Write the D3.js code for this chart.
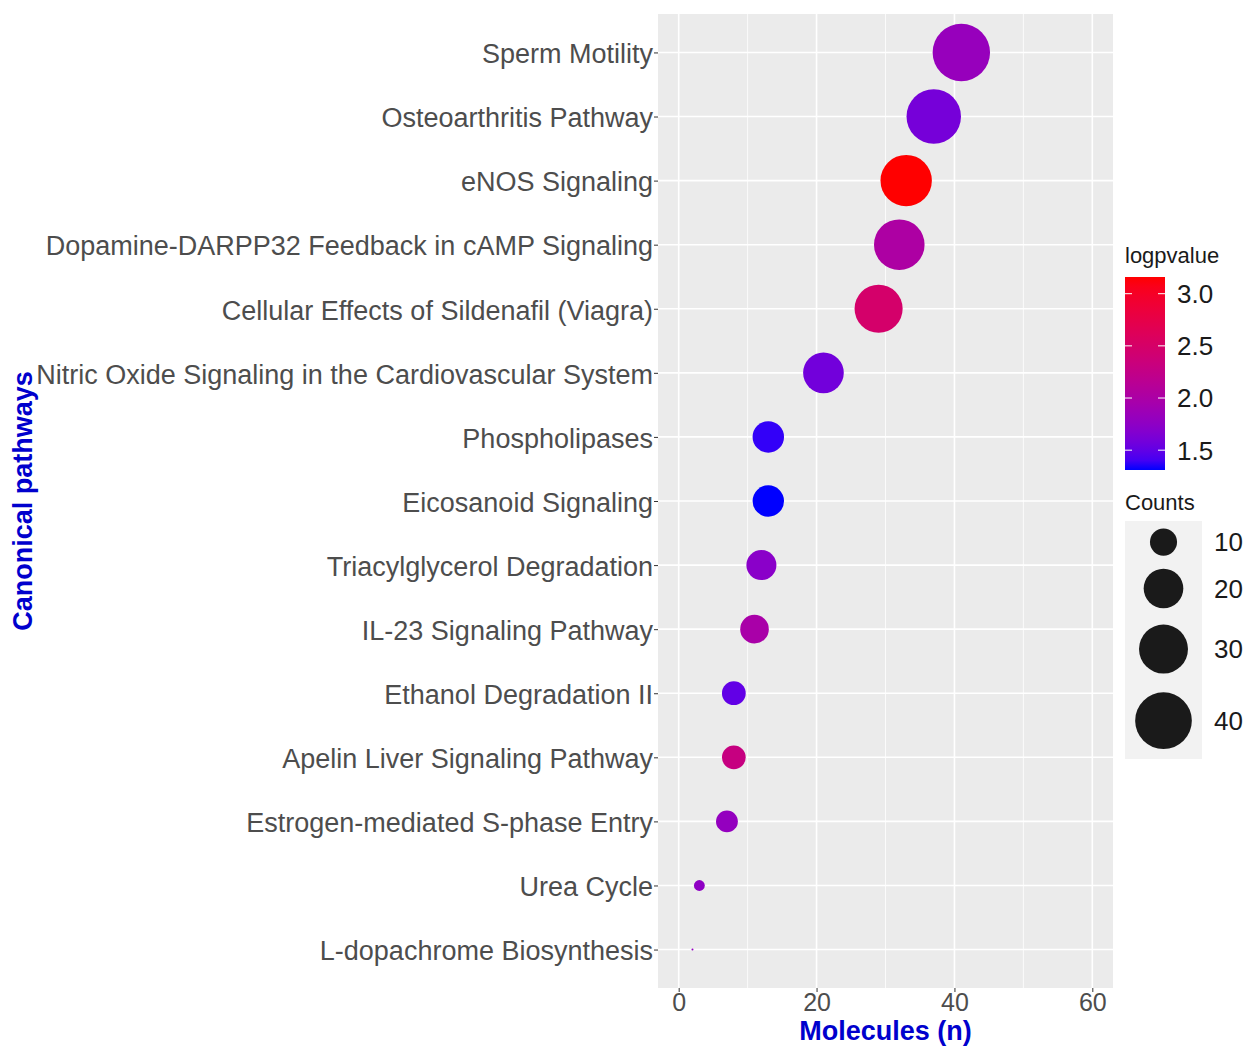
<!DOCTYPE html>
<html>
<head>
<meta charset="utf-8">
<script src="https://cdn.jsdelivr.net/npm/d3@7"></script>
<style>
  body { margin: 0; background: #fff; }
  text { font-family: "Liberation Sans", Arial, sans-serif; }
</style>
</head>
<body>
<div id="chart-area"></div>
<script>
// pathways, top to bottom
var pathways = [
  "Sperm Motility",
  "Osteoarthritis Pathway",
  "eNOS Signaling",
  "Dopamine-DARPP32 Feedback in cAMP Signaling",
  "Cellular Effects of Sildenafil (Viagra)",
  "Nitric Oxide Signaling in the Cardiovascular System",
  "Phospholipases",
  "Eicosanoid Signaling",
  "Triacylglycerol Degradation",
  "IL-23 Signaling Pathway",
  "Ethanol Degradation II",
  "Apelin Liver Signaling Pathway",
  "Estrogen-mediated S-phase Entry",
  "Urea Cycle",
  "L-dopachrome Biosynthesis"
];
var molecules = [41, 37, 33, 32, 29, 21, 13, 13, 12, 11, 8, 8, 7, 3, 2];
var counts    = [41, 37, 33, 32, 29, 21, 13, 13, 12, 11, 8, 8, 7, 3, 2];
var logpvalue = [1.82, 1.6, 3.16, 2.02, 2.48, 1.58, 1.36, 1.31, 1.72, 1.98, 1.5, 2.3, 1.8, 1.76, 1.8];

var xTicks = [0, 20, 40, 60];
var xMinor = [10, 30, 50];
var colorTicks = [1.5, 2.0, 2.5, 3.0];
var sizeBreaks = [10, 20, 30, 40];

var data = pathways.map((p, i) => ({
  name: p, n: molecules[i], count: counts[i], logp: logpvalue[i]
}));

var W = 1248, H = 1046;
var panel = { left: 658, right: 1113, top: 14, bottom: 988 };

var svg = d3.select("#chart-area").append("svg")
  .attr("width", W)
  .attr("height", H);

// scales
var x = d3.scaleLinear()
  .domain([-3, 63])
  .range([panel.left, panel.right]);

var y = d3.scalePoint()
  .domain(pathways)
  .range([panel.top, panel.bottom])
  .padding(0.6);

var color = d3.scaleLinear()
  .domain(d3.extent(logpvalue))
  .range(["blue", "red"])
  .interpolate(d3.interpolateLab);

// ggplot-like area scale: rescale, sqrt, then map to radius
var sizeNorm = d3.scaleLinear().domain(d3.extent(counts)).range([0, 1]);
var sizeR = d3.scaleLinear().domain([0, 1]).range([1, 28.7]);
var radius = v => sizeR(Math.sqrt(Math.max(0, sizeNorm(v))));

// panel
svg.append("rect")
  .attr("x", panel.left).attr("y", panel.top)
  .attr("width", panel.right - panel.left)
  .attr("height", panel.bottom - panel.top)
  .attr("fill", "#ebebeb");

// grid
svg.selectAll(".minor-x")
  .data(xMinor).enter().append("line")
  .attr("x1", d => x(d)).attr("x2", d => x(d))
  .attr("y1", panel.top).attr("y2", panel.bottom)
  .attr("stroke", "#fff").attr("stroke-width", 0.8);

svg.selectAll(".major-x")
  .data(xTicks).enter().append("line")
  .attr("x1", d => x(d)).attr("x2", d => x(d))
  .attr("y1", panel.top).attr("y2", panel.bottom)
  .attr("stroke", "#fff").attr("stroke-width", 1.6);

svg.selectAll(".major-y")
  .data(pathways).enter().append("line")
  .attr("x1", panel.left).attr("x2", panel.right)
  .attr("y1", d => y(d)).attr("y2", d => y(d))
  .attr("stroke", "#fff").attr("stroke-width", 1.6);

// axes
var xAxis = svg.append("g")
  .attr("transform", `translate(0,${panel.bottom})`)
  .call(d3.axisBottom(x).tickValues(xTicks).tickSize(4).tickPadding(1));
xAxis.select(".domain").remove();
xAxis.selectAll("line").attr("stroke", "#333");
xAxis.selectAll("text")
  .attr("fill", "#4d4d4d")
  .style("font-size", "25px")
  .style("font-family", "'Liberation Sans', Arial, sans-serif");

var yAxis = svg.append("g")
  .attr("transform", `translate(${panel.left},0)`)
  .call(d3.axisLeft(y).tickSize(4).tickPadding(1));
yAxis.select(".domain").remove();
yAxis.selectAll("line").attr("stroke", "#333");
yAxis.selectAll("text")
  .attr("fill", "#4d4d4d")
  .attr("dy", "0.38em")
  .style("font-size", "27px")
  .style("font-family", "'Liberation Sans', Arial, sans-serif");

// points
svg.selectAll("circle.pt")
  .data(data).enter().append("circle")
  .attr("class", "pt")
  .attr("cx", d => x(d.n))
  .attr("cy", d => y(d.name))
  .attr("r", d => radius(d.count))
  .attr("fill", d => color(d.logp));

// axis titles
svg.append("text")
  .attr("x", (panel.left + panel.right) / 2)
  .attr("y", 1040)
  .attr("text-anchor", "middle")
  .attr("fill", "#0000cd")
  .style("font-size", "27px")
  .style("font-weight", "bold")
  .text("Molecules (n)");

svg.append("text")
  .attr("transform", `translate(32,${(panel.top + panel.bottom) / 2}) rotate(-90)`)
  .attr("text-anchor", "middle")
  .attr("fill", "#0000cd")
  .style("font-size", "27px")
  .style("font-weight", "bold")
  .text("Canonical pathways");

// colour legend
var bar = { x: 1125, w: 40, top: 277, bottom: 470 };
svg.append("text")
  .attr("x", bar.x).attr("y", 263)
  .attr("fill", "#1a1a1a")
  .style("font-size", "22px")
  .text("logpvalue");

var grad = svg.append("defs").append("linearGradient")
  .attr("id", "cbar")
  .attr("x1", 0).attr("y1", 1).attr("x2", 0).attr("y2", 0);
var cDom = color.domain();
d3.range(0, 1.0001, 0.05).forEach(t => {
  grad.append("stop")
    .attr("offset", t)
    .attr("stop-color", color(cDom[0] + t * (cDom[1] - cDom[0])));
});
svg.append("rect")
  .attr("x", bar.x).attr("y", bar.top)
  .attr("width", bar.w).attr("height", bar.bottom - bar.top)
  .attr("fill", "url(#cbar)");

var cy = d3.scaleLinear().domain(cDom).range([bar.bottom, bar.top]);
colorTicks.forEach(t => {
  [[bar.x, bar.x + 7], [bar.x + bar.w - 7, bar.x + bar.w]].forEach(seg => {
    svg.append("line")
      .attr("x1", seg[0]).attr("x2", seg[1])
      .attr("y1", cy(t)).attr("y2", cy(t))
      .attr("stroke", "#fff").attr("stroke-width", 1);
  });
  svg.append("text")
    .attr("x", bar.x + bar.w + 12).attr("y", cy(t))
    .attr("dy", "0.36em")
    .attr("fill", "#1a1a1a")
    .style("font-size", "26px")
    .text(t.toFixed(1));
});

// size legend
svg.append("text")
  .attr("x", bar.x).attr("y", 510)
  .attr("fill", "#1a1a1a")
  .style("font-size", "22px")
  .text("Counts");

var keyH = sizeBreaks.map(b => 2.6 * radius(b) + 3);
var keyTop = 523;
var keyY = [];
var acc = keyTop;
keyH.forEach(h => { keyY.push(acc + h / 2); acc += h; });

svg.append("rect")
  .attr("x", bar.x).attr("y", keyTop - 2)
  .attr("width", 77).attr("height", acc - keyTop + 2)
  .attr("fill", "#f2f2f2");

sizeBreaks.forEach((b, i) => {
  svg.append("circle")
    .attr("cx", bar.x + 38.5).attr("cy", keyY[i])
    .attr("r", radius(b))
    .attr("fill", "#1a1a1a");
  svg.append("text")
    .attr("x", bar.x + 89).attr("y", keyY[i])
    .attr("dy", "0.36em")
    .attr("fill", "#1a1a1a")
    .style("font-size", "26px")
    .text(b);
});
</script>
</body>
</html>
